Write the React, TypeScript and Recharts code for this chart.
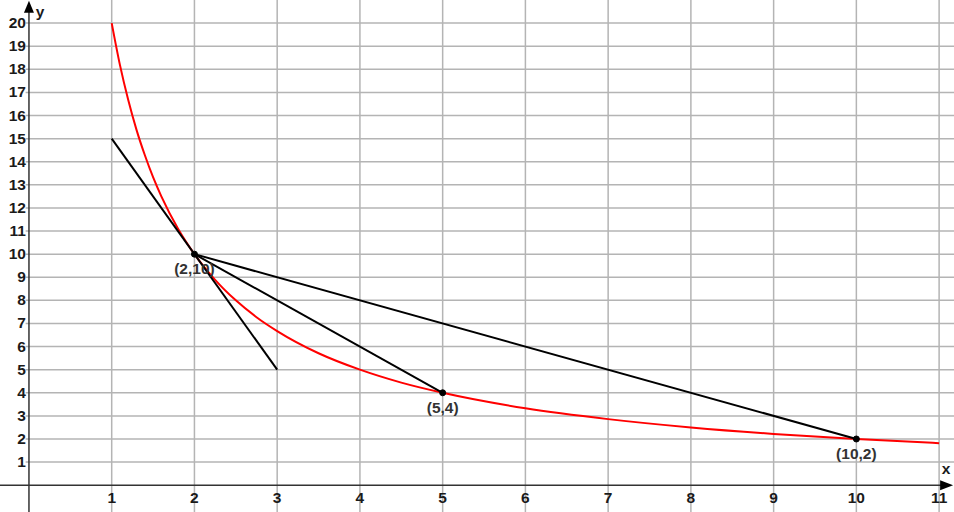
import { ComposedChart, Line, XAxis, YAxis, ReferenceLine, ReferenceDot } from "recharts";

// hyperbola y = 20/x
const curveX = [1, 1.1, 1.2, 1.3, 1.4, 1.5, 1.6, 1.8, 2, 2.25, 2.5, 2.75, 3, 3.5, 4, 4.5, 5, 6, 7, 8, 9, 10, 11];
const curveY = [20, 18.18, 16.67, 15.38, 14.29, 13.33, 12.5, 11.11, 10, 8.89, 8, 7.27, 6.67, 5.71, 5, 4.44, 4, 3.33, 2.86, 2.5, 2.22, 2, 1.82];

const tangent = [{ x: 1, y: 15 }, { x: 3, y: 5 }];
const secantNear = [{ x: 2, y: 10 }, { x: 5, y: 4 }];
const secantFar = [{ x: 2, y: 10 }, { x: 10, y: 2 }];

const marked = [
  { x: 2, y: 10, label: "(2,10)" },
  { x: 5, y: 4, label: "(5,4)" },
  { x: 10, y: 2, label: "(10,2)" },
];

const xTicks = [1, 2, 3, 4, 5, 6, 7, 8, 9, 10, 11];
const yTicks = [1, 2, 3, 4, 5, 6, 7, 8, 9, 10, 11, 12, 13, 14, 15, 16, 17, 18, 19, 20];

const X_MIN = -0.35;
const X_MAX = 11.18;
const Y_MIN = -1.16;
const Y_MAX = 21.0;

const curve = curveX.map((x, i) => ({ x, y: curveY[i] }));

const GRID = "#b4b4b4";
const AXIS = "#333333";
const labelStyle = { fontFamily: "'Liberation Sans', Arial, sans-serif", fontWeight: 700, fontSize: 15.5 };

const XTickLabel = (props: any) => {
  const { viewBox, value } = props;
  return (
    <text x={viewBox.x} y={viewBox.y + 18} textAnchor="middle" fill="#1a1a1a" style={labelStyle}>
      {value}
    </text>
  );
};

const YTickLabel = (props: any) => {
  const { viewBox, value } = props;
  return (
    <text x={viewBox.x - 3} y={viewBox.y + 5} textAnchor="end" fill="#1a1a1a" style={labelStyle}>
      {value}
    </text>
  );
};

const PointLabel = (props: any) => {
  const { viewBox, value } = props;
  const cx = viewBox.x + viewBox.width / 2;
  const cy = viewBox.y + viewBox.height / 2;
  return (
    <text x={cx} y={cy + 20} textAnchor="middle" fill="#333" style={labelStyle}>
      {value}
    </text>
  );
};

const ArrowRight = (props: any) => {
  const { cx, cy } = props;
  return (
    <g>
      <path d={`M${cx + 14},${cy} L${cx + 1},${cy - 5} L${cx + 1},${cy + 5} Z`} fill="#000" />
      <text x={cx + 7} y={cy - 11} textAnchor="middle" fill="#1a1a1a" style={labelStyle}>
        x
      </text>
    </g>
  );
};

const ArrowUp = (props: any) => {
  const { cx, cy } = props;
  return (
    <g>
      <path d={`M${cx},${cy - 12} L${cx - 5},${cy} L${cx + 5},${cy} Z`} fill="#000" />
      <text x={cx + 11} y={cy + 4} textAnchor="middle" fill="#1a1a1a" style={labelStyle}>
        y
      </text>
    </g>
  );
};

export default function App() {
  return (
    <div style={{ position: "absolute", left: 0, top: 0, width: 954, height: 512, background: "#fff" }}>
      <ComposedChart width={954} height={512} margin={{ top: 0, right: 0, bottom: 0, left: 0 }}>
        <XAxis type="number" dataKey="x" domain={[X_MIN, X_MAX]} allowDataOverflow hide />
        <YAxis type="number" dataKey="y" domain={[Y_MIN, Y_MAX]} allowDataOverflow hide />

        {xTicks.map((t) => (
          <ReferenceLine key={`gx${t}`} segment={[{ x: t, y: Y_MIN }, { x: t, y: Y_MAX }]} stroke={GRID} strokeWidth={1.5} ifOverflow="visible" />
        ))}
        {yTicks.map((t) => (
          <ReferenceLine key={`gy${t}`} segment={[{ x: -0.04, y: t }, { x: X_MAX, y: t }]} stroke={GRID} strokeWidth={1.5} ifOverflow="visible" />
        ))}

        {/* axes */}
        <ReferenceLine segment={[{ x: X_MIN, y: 0 }, { x: 11.13, y: 0 }]} stroke={AXIS} strokeWidth={1.5} ifOverflow="visible" />
        <ReferenceLine segment={[{ x: 0, y: Y_MIN }, { x: 0, y: 20.85 }]} stroke={AXIS} strokeWidth={1.5} ifOverflow="visible" />
        <ReferenceDot x={11.0} y={0} r={1} ifOverflow="visible" shape={(p: any) => <ArrowRight cx={p.cx} cy={p.cy} />} />
        <ReferenceDot x={0} y={20.45} r={1} ifOverflow="visible" shape={(p: any) => <ArrowUp cx={p.cx} cy={p.cy} />} />

        {xTicks.map((t) => (
          <ReferenceDot key={`lx${t}`} x={t} y={0} r={0.01} fill="none" stroke="none" ifOverflow="visible" label={<XTickLabel value={t} />} />
        ))}
        {yTicks.map((t) => (
          <ReferenceDot key={`ly${t}`} x={0} y={t} r={0.01} fill="none" stroke="none" ifOverflow="visible" label={<YTickLabel value={t} />} />
        ))}

        <Line data={curve} dataKey="y" type="monotone" stroke="#ff0000" strokeWidth={2} dot={false} activeDot={false} isAnimationActive={false} />
        <Line data={tangent} dataKey="y" type="linear" stroke="#000" strokeWidth={2} dot={false} activeDot={false} isAnimationActive={false} />
        <Line data={secantNear} dataKey="y" type="linear" stroke="#000" strokeWidth={2} dot={false} activeDot={false} isAnimationActive={false} />
        <Line data={secantFar} dataKey="y" type="linear" stroke="#000" strokeWidth={2} dot={false} activeDot={false} isAnimationActive={false} />

        {marked.map((p) => (
          <ReferenceDot key={p.label} x={p.x} y={p.y} r={3} fill="#000" stroke="#000" ifOverflow="visible" label={<PointLabel value={p.label} />} />
        ))}
      </ComposedChart>
    </div>
  );
}
